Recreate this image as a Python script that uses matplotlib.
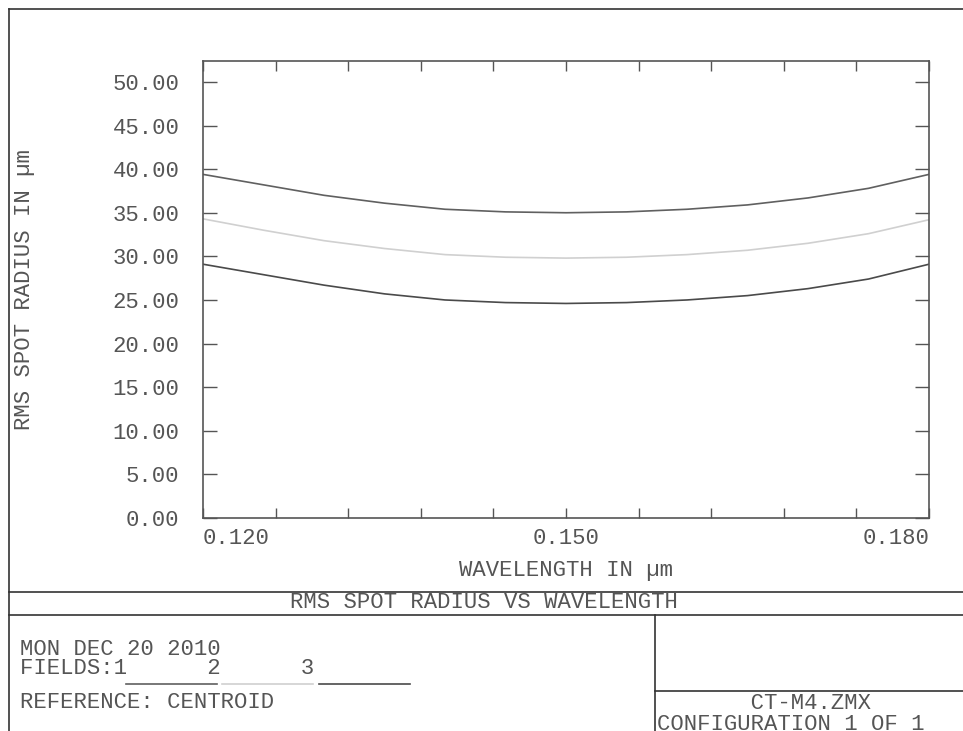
import matplotlib
matplotlib.use("Agg")
import matplotlib.pyplot as plt
from matplotlib.lines import Line2D
import numpy as np

plt.rcParams["font.family"] = ["Liberation Mono", "DejaVu Sans Mono"]

# data
wavelength = [0.120, 0.125, 0.130, 0.135, 0.140, 0.145, 0.150,
              0.155, 0.160, 0.165, 0.170, 0.175, 0.180]
field1 = [39.4, 38.2, 37.0, 36.1, 35.4, 35.1, 35.0, 35.1, 35.4, 35.9, 36.7, 37.8, 39.4]
field2 = [34.3, 33.0, 31.8, 30.9, 30.2, 29.9, 29.8, 29.9, 30.2, 30.7, 31.5, 32.6, 34.2]
field3 = [29.1, 27.9, 26.7, 25.7, 25.0, 24.7, 24.6, 24.7, 25.0, 25.5, 26.3, 27.4, 29.1]
field_colors = ["#606060", "#d0d0d0", "#4a4a4a"]

xticks = np.arange(0.120, 0.1801, 0.006)
xlabels = {0: "0.120", 5: "0.150", 10: "0.180"}
yticks = np.arange(0, 50.01, 5)

txt = "#555555"
W, H = 963, 731
fig = plt.figure(figsize=(W / 100, H / 100), dpi=100)
ax = fig.add_axes([203 / W, 1 - 518 / H, (929 - 203) / W, (518 - 61) / H])

for ys, c in zip([field1, field2, field3], field_colors):
    ax.plot(wavelength, ys, color=c, lw=1.2)

ax.set_xlim(0.120, 0.180)
ax.set_ylim(0, 52.4)
for s in ax.spines.values():
    s.set_color("#555555")
    s.set_linewidth(1.2)

ax.set_xticks(xticks)
ax.set_xticklabels([xlabels.get(i, "") for i in range(len(xticks))])
ax.set_yticks(yticks)
ax.set_yticklabels(["%.2f" % v for v in yticks])
ax.tick_params(axis="x", direction="in", length=7, width=1, color="#555555",
               top=True, labelsize=16, labelcolor=txt, pad=7)
ax.tick_params(axis="y", direction="in", length=10, width=1, color="#555555",
               right=True, labelsize=16, labelcolor=txt, pad=17)
xl = ax.get_xticklabels()
xl[0].set_ha("left")
xl[-1].set_ha("right")

ax.set_xlabel("WAVELENGTH IN \u00b5m", fontsize=16, color=txt, labelpad=8)
ax.set_ylabel("RMS SPOT RADIUS IN \u00b5m", fontsize=16, color=txt)
ax.yaxis.set_label_coords(35 / W, 1 - 290 / H, transform=fig.transFigure)


def fline(x0, y0, x1, y1, c="#333333", lw=1.2):
    fig.add_artist(Line2D([x0 / W, x1 / W], [1 - y0 / H, 1 - y1 / H],
                          transform=fig.transFigure, color=c, lw=lw))


# frame and title block
fline(9, 9, W, 9)
fline(9, 9, 9, H)
fline(9, 592, W, 592)
fline(9, 615, W, 615)
fline(655, 615, 655, H)
fline(655, 691, W, 691)
# field keys
fline(126, 684, 217, 684, field_colors[0])
fline(222, 684, 313, 684, field_colors[1])
fline(319, 684, 410, 684, field_colors[2])


def ftext(x, y, s, ha="left", **kw):
    fig.text(x / W, 1 - y / H, s, ha=ha, va="center", fontsize=16, color=txt, **kw)


ftext(484, 603, "RMS SPOT RADIUS VS WAVELENGTH", ha="center")
ftext(20, 659, "MON DEC 20 2010\nFIELDS:1      2      3", linespacing=0.85)
ftext(20, 703, "REFERENCE: CENTROID")
ftext(657, 714, "       CT-M4.ZMX\nCONFIGURATION 1 OF 1", linespacing=0.95)

fig.savefig("out.png", dpi=100)
